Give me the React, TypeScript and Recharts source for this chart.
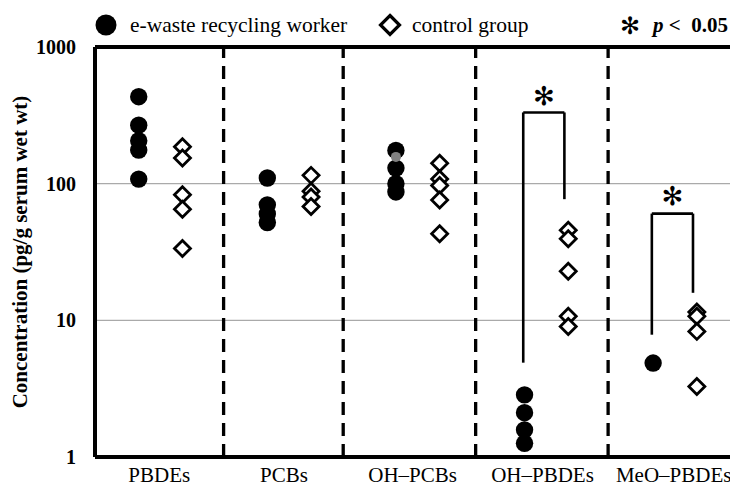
import React from "react";
import {
  ComposedChart,
  Scatter,
  XAxis,
  YAxis,
  ReferenceLine,
  ReferenceDot,
} from "recharts";

const categories = ["PBDEs", "PCBs", "OH\u2013PCBs", "OH\u2013PBDEs", "MeO\u2013PBDEs"];

const workerPBDEs = [433, 268, 206, 176, 108];
const workerPCBs = [110, 70, 60, 52];
const workerOHPCBs = [175, 130, 100, 87];
const workerOHPBDEs = [2.85, 2.11, 1.58, 1.26];
const workerMeOPBDEs = [4.87];
const workerGrayOHPCBs = [157];

const controlPBDEs = [186, 154, 83, 65, 33.6];
const controlPCBs = [115, 88, 80, 68];
const controlOHPCBs = [141, 108, 97, 76, 43];
const controlOHPBDEs = [45.7, 39.5, 22.9, 10.7, 9.0];
const controlMeOPBDEs = [11.5, 10.7, 8.3, 3.28];

const yTicks = [1, 10, 100, 1000];

// significance brackets: category index, worker-side bottom, top, control-side bottom, star value
const sigOHPBDEs = { cat: 3, left: 4.9, top: 332, right: 77, star: 440 };
const sigMeOPBDEs = { cat: 4, left: 7.85, top: 60.4, right: 15.9, star: 81 };

const W_OFF = 0.34;
const C_OFF = 0.68;
const dividers = [1.0, 1.93, 2.96, 3.99];

const workerSets = [workerPBDEs, workerPCBs, workerOHPCBs, workerOHPBDEs, workerMeOPBDEs];
const controlSets = [controlPBDEs, controlPCBs, controlOHPCBs, controlOHPBDEs, controlMeOPBDEs];

const workerData = workerSets.flatMap((arr, i) => arr.map((v) => ({ x: i + W_OFF, y: v })));
const controlData = controlSets.flatMap((arr, i) => arr.map((v) => ({ x: i + C_OFF, y: v })));
const grayData = workerGrayOHPCBs.map((v) => ({ x: 2 + W_OFF, y: v }));

const SERIF = "'Liberation Serif', 'Times New Roman', serif";

const Circle = (p: any) => <circle cx={p.cx} cy={p.cy} r={8.7} fill="#000" />;
const GrayCircle = (p: any) => <circle cx={p.cx} cy={p.cy} r={5} fill="#808080" />;
const Diamond = (p: any) => {
  const s = 8;
  const { cx, cy } = p;
  return (
    <polygon
      points={`${cx},${cy - s} ${cx + s},${cy} ${cx},${cy + s} ${cx - s},${cy}`}
      fill="#fff"
      stroke="#000"
      strokeWidth={2.8}
      strokeLinejoin="miter"
    />
  );
};

const Star = (p: any) => (
  <text
    x={p.cx}
    y={p.cy}
    dy={9}
    textAnchor="middle"
    fontFamily="'DejaVu Sans', sans-serif"
    fontSize={26}
    fontWeight="bold"
    fill="#000"
  >
    {"\u273B"}
  </text>
);

const XTick = (p: any) => {
  const idx = Math.round(p.payload.value - 0.5);
  return (
    <text x={p.x} y={p.y} dy={17} textAnchor="middle" fontFamily={SERIF} fontSize={21} fill="#000">
      {categories[idx]}
    </text>
  );
};

const YTick = (p: any) => (
  <text
    x={p.x - 11}
    y={p.y}
    dy={7}
    textAnchor="end"
    fontFamily={SERIF}
    fontSize={20}
    fontWeight="bold"
    fill="#000"
  >
    {p.payload.value}
  </text>
);

const YTitle = () => (
  <text
    x={0}
    y={0}
    transform="translate(12,244) rotate(-90)"
    textAnchor="middle"
    dominantBaseline="central"
    fontFamily={SERIF}
    fontSize={21}
    fontWeight="bold"
    fill="#000"
  >
    Concentration (pg/g serum wet wt)
  </text>
);

export default function App() {
  const brackets = [sigOHPBDEs, sigMeOPBDEs];
  return (
    <div style={{ position: "relative", width: 730, height: 479 }}>
      <ComposedChart
        width={730}
        height={479}
        margin={{ top: 39, right: 0, left: 0, bottom: 0 }}
      >
        <XAxis
          type="number"
          dataKey="x"
          domain={[0, 5]}
          ticks={[0.5, 1.47, 2.47, 3.48, 4.5]}
          tick={<XTick />}
          tickLine={false}
          axisLine={{ stroke: "#000", strokeWidth: 4 }}
          height={30}
          allowDataOverflow
        />
        <YAxis
          type="number"
          dataKey="y"
          scale="log"
          domain={[1, 1000]}
          ticks={yTicks}
          tick={<YTick />}
          tickLine={false}
          axisLine={{ stroke: "#000", strokeWidth: 4 }}
          width={87}
          allowDataOverflow
          label={<YTitle />}
        />
        <ReferenceLine y={10} stroke="#aaa" strokeWidth={1.2} />
        <ReferenceLine y={100} stroke="#aaa" strokeWidth={1.2} />
        <ReferenceLine y={1000} stroke="#000" strokeWidth={4} />
        {dividers.map((d) => (
          <ReferenceLine key={d} x={d} stroke="#000" strokeWidth={3.3} strokeDasharray="13 8" />
        ))}
        {brackets.map((s) => {
          const lx = s.cat + 0.33;
          const rx = s.cat + 0.65;
          return (
            <React.Fragment key={s.cat}>
              <ReferenceLine
                segment={[{ x: lx, y: s.left }, { x: lx, y: s.top }]}
                stroke="#000"
                strokeWidth={2.6}
              />
              <ReferenceLine
                segment={[{ x: lx, y: s.top }, { x: rx, y: s.top }]}
                stroke="#000"
                strokeWidth={2.6}
              />
              <ReferenceLine
                segment={[{ x: rx, y: s.top }, { x: rx, y: s.right }]}
                stroke="#000"
                strokeWidth={2.6}
              />
              <ReferenceDot x={s.cat + 0.49} y={s.star} r={0} shape={<Star />} />
            </React.Fragment>
          );
        })}
        <Scatter data={workerData} shape={<Circle />} isAnimationActive={false} />
        <Scatter data={grayData} shape={<GrayCircle />} isAnimationActive={false} />
        <Scatter data={controlData} shape={<Diamond />} isAnimationActive={false} />
      </ComposedChart>
      <svg
        width={730}
        height={37}
        style={{ position: "absolute", left: 0, top: 0 }}
      >
        <circle cx={98} cy={17} r={10.5} fill="#000" />
        <text x={122} y={24} fontFamily={SERIF} fontSize={21.5} fill="#000">
          e-waste recycling worker
        </text>
        <polygon points="382,7.5 391.5,17 382,26.5 372.5,17" fill="#fff" stroke="#000" strokeWidth={3.2} />
        <text x={404} y={24} fontFamily={SERIF} fontSize={21.5} fill="#000">
          control group
        </text>
        <text
          x={622}
          y={26}
          textAnchor="middle"
          fontFamily="'DejaVu Sans', sans-serif"
          fontSize={24}
          fontWeight="bold"
          fill="#000"
        >
          {"\u273B"}
        </text>
        <text
          x={720}
          y={24}
          textAnchor="end"
          fontFamily={SERIF}
          fontSize={21}
          fontWeight="bold"
          fill="#000"
          style={{ whiteSpace: "pre" }}
        >
          <tspan fontStyle="italic">p</tspan>
          {" <  0.05"}
        </text>
      </svg>
    </div>
  );
}
